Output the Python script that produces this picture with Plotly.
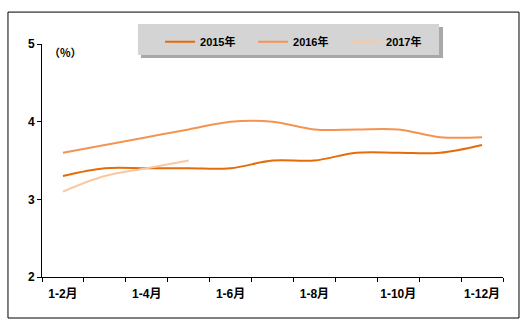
import plotly.graph_objects as go

# Cumulative periods (Jan through month N)
categories = ["1-2月", "1-3月", "1-4月", "1-5月", "1-6月", "1-7月",
              "1-8月", "1-9月", "1-10月", "1-11月", "1-12月"]
# Only every other period gets a printed label
tick_text = ["1-2月", "", "1-4月", "", "1-6月", "", "1-8月", "", "1-10月", "", "1-12月"]

values_2015 = [3.3, 3.4, 3.4, 3.4, 3.4, 3.5, 3.5, 3.6, 3.6, 3.6, 3.7]
values_2016 = [3.6, 3.7, 3.8, 3.9, 4.0, 4.0, 3.9, 3.9, 3.9, 3.8, 3.8]
values_2017 = [3.1, 3.3, 3.4, 3.5]

series = [
    ("2015年", values_2015, "#E46C0A"),
    ("2016年", values_2016, "#F39450"),
    ("2017年", values_2017, "#FAC8A0"),
]

FONT = "Liberation Sans, Arial, Noto Sans CJK SC, sans-serif"

fig = go.Figure()
for name, vals, color in series:
    fig.add_trace(go.Scatter(
        x=categories[:len(vals)], y=vals, name=name, mode="lines",
        line=dict(color=color, width=2, shape="spline", smoothing=1.0),
    ))

fig.update_layout(
    width=532, height=326,
    margin=dict(l=42, r=29, t=44, b=49),
    paper_bgcolor="white", plot_bgcolor="white",
    font=dict(family=FONT, size=11, color="black"),
    showlegend=True,
    legend=dict(
        orientation="h", x=0.256, xanchor="left", y=1.072, yanchor="top",
        bgcolor="rgba(0,0,0,0)", borderwidth=0,
        entrywidth=48, entrywidthmode="pixels",
        font=dict(family=FONT, size=11, color="black", weight="bold"),
        traceorder="normal",
    ),
    xaxis=dict(
        type="category", categoryorder="array", categoryarray=categories,
        tickmode="array", tickvals=categories, ticktext=tick_text,
        tickson="boundaries", ticks="outside", ticklen=4, tickcolor="black",
        tickangle=0, ticklabelstandoff=6,
        showline=True, linecolor="black", linewidth=1, showgrid=False,
        zeroline=False, range=[-0.5, 10.5],
        tickfont=dict(family=FONT, size=12, color="black", weight="bold"),
    ),
    yaxis=dict(
        range=[2, 5], dtick=1, tick0=2, ticks="outside", ticklen=4,
        tickcolor="black", showline=True, linecolor="black", linewidth=1,
        showgrid=False, zeroline=False,
        tickfont=dict(family=FONT, size=12, color="black", weight="bold"),
    ),
    shapes=[
        # outer chart frame
        dict(type="rect", xref="paper", yref="paper",
             x0=-0.0738, x1=1.0347, y0=-0.176, y1=1.137,
             line=dict(color="black", width=1), fillcolor="rgba(0,0,0,0)",
             layer="below"),
        # legend panel shadow
        dict(type="rect", xref="paper", yref="paper",
             x0=0.2147, x1=0.8699, y0=0.9399, y1=1.0729,
             line=dict(width=0), fillcolor="#A8A8A8", layer="below"),
        # legend panel
        dict(type="rect", xref="paper", yref="paper",
             x0=0.2082, x1=0.8612, y0=0.9528, y1=1.0858,
             line=dict(width=0), fillcolor="#D4D4D4", layer="below"),
    ],
    annotations=[
        dict(text="（%）", xref="paper", yref="paper", x=0.011, y=0.965,
             xanchor="left", yanchor="middle", showarrow=False,
             font=dict(family="Noto Sans CJK SC, sans-serif", size=11,
                       color="black", weight="bold")),
    ],
)

fig.write_html("out.html")
